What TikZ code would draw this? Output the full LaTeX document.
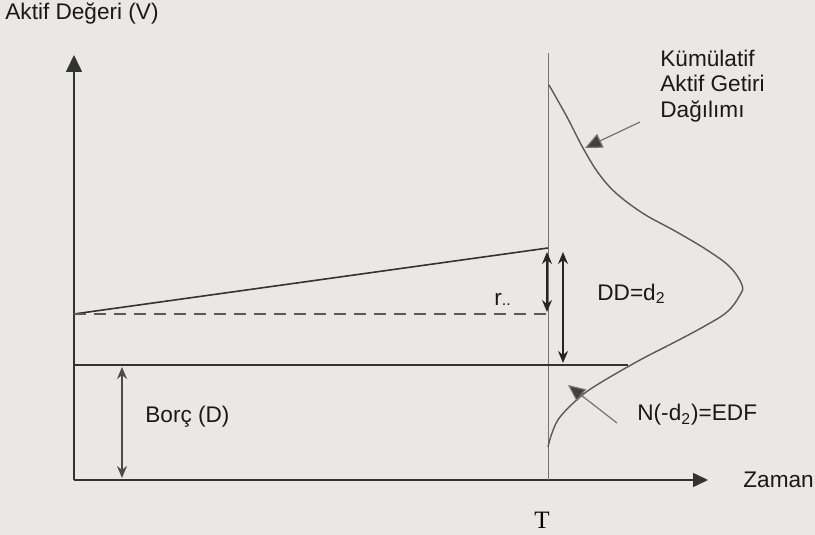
\documentclass[tikz,border=0pt]{standalone}
\usepackage{fontspec}
\setmainfont{Liberation Sans}
\newfontfamily\serifyazi{Liberation Serif}
\usetikzlibrary{arrows.meta}
\definecolor{kagit}{RGB}{233,232,228}

\begin{document}
\begin{tikzpicture}[x=0.5pt, y=-0.5pt,
  eksen/.style={black!80, line width=0.8pt},
  olcu/.style={{Stealth[length=6pt,width=5pt]}-{Stealth[length=6pt,width=5pt]}, black!85, line width=0.6pt},
  isaret/.style={-{Triangle[length=8.5pt,width=7.5pt,fill=black!75]}, black!55, line width=0.6pt},
  etiket/.style={font=\fontsize{11.3}{12.8}\selectfont, inner sep=0pt, text=black!90}]
\fill[kagit] (0,0) rectangle (815,535);
% eksenler
\coordinate (O) at (74,480);
\coordinate (Yust) at (74,55);
\coordinate (Xson) at (708,480);
\coordinate (Talt) at (548,480);
\coordinate (Tust) at (548,53);
\draw[eksen, -{Triangle[length=8.5pt,width=8pt]}] (O) -- (Yust);
\draw[eksen, -{Triangle[length=7.5pt,width=7pt]}] (O) -- (Xson);
\draw[black!55, line width=0.5pt] (Talt) -- (Tust);
% aktif degeri ve borc
\coordinate (V0) at (74,314);
\coordinate (VT) at (548,248);
\coordinate (rT) at (548,314);
\coordinate (D0) at (74,365);
\coordinate (DT) at (628,365);
\draw[eksen] (V0) -- (VT);
\draw[eksen, dashed, dash pattern=on 6pt off 4pt, black!65] (V0) -- (rT);
\draw[eksen] (D0) -- (DT);
% dagilim
\draw[black!65, line width=0.7pt] plot[smooth, tension=0.6] coordinates {
  (549,85) (567,117) (583,148) (599,174) (617,194) (644,214) (675,231)
  (707,250) (730,267) (742,285) (740,295) (727,312) (703,327) (673,343)
  (640,360) (600,383) (580,397) (560,417) (552,433) (548,447)};
% olculer
\coordinate (a1) at (547,252);
\coordinate (a2) at (547,312);
\coordinate (b1) at (563,252);
\coordinate (b2) at (563,363);
\coordinate (c1) at (122,367);
\coordinate (c2) at (122,478);
\draw[olcu] (a1) -- (a2);
\draw[olcu] (b1) -- (b2);
\draw[olcu, black!70] (c1) -- (c2);
% etiketler
\node[etiket, anchor=west] (deger) at (5,14) {Aktif Değeri (V)};
\node[etiket, anchor=west, align=left] (dagilim) at (660,86) {Kümülatif\\Aktif Getiri\\Dağılımı};
\node[etiket, anchor=west] (dd) at (597,294) {DD=d\textsubscript{2}};
\node[etiket, anchor=west] (edf) at (637,415) {N(-d\textsubscript{2})=EDF};
\node[etiket, anchor=west] (zaman) at (743,480) {Zaman};
\node[etiket, anchor=west] (borc) at (145,417) {Borç (D)};
\node[etiket, anchor=west] (r) at (494,299) {r{\footnotesize..}};
\node[font=\serifyazi\fontsize{12.5}{14}\selectfont, inner sep=0pt] (T) at (542,520) {T};
% isaretler
\coordinate (ok1) at (640,122);
\coordinate (ok1uc) at (585,148);
\coordinate (ok2) at (617,423);
\coordinate (ok2uc) at (568,385);
\draw[isaret] (ok1) -- (ok1uc);
\draw[isaret] (ok2) -- (ok2uc);
\end{tikzpicture}
\end{document}
